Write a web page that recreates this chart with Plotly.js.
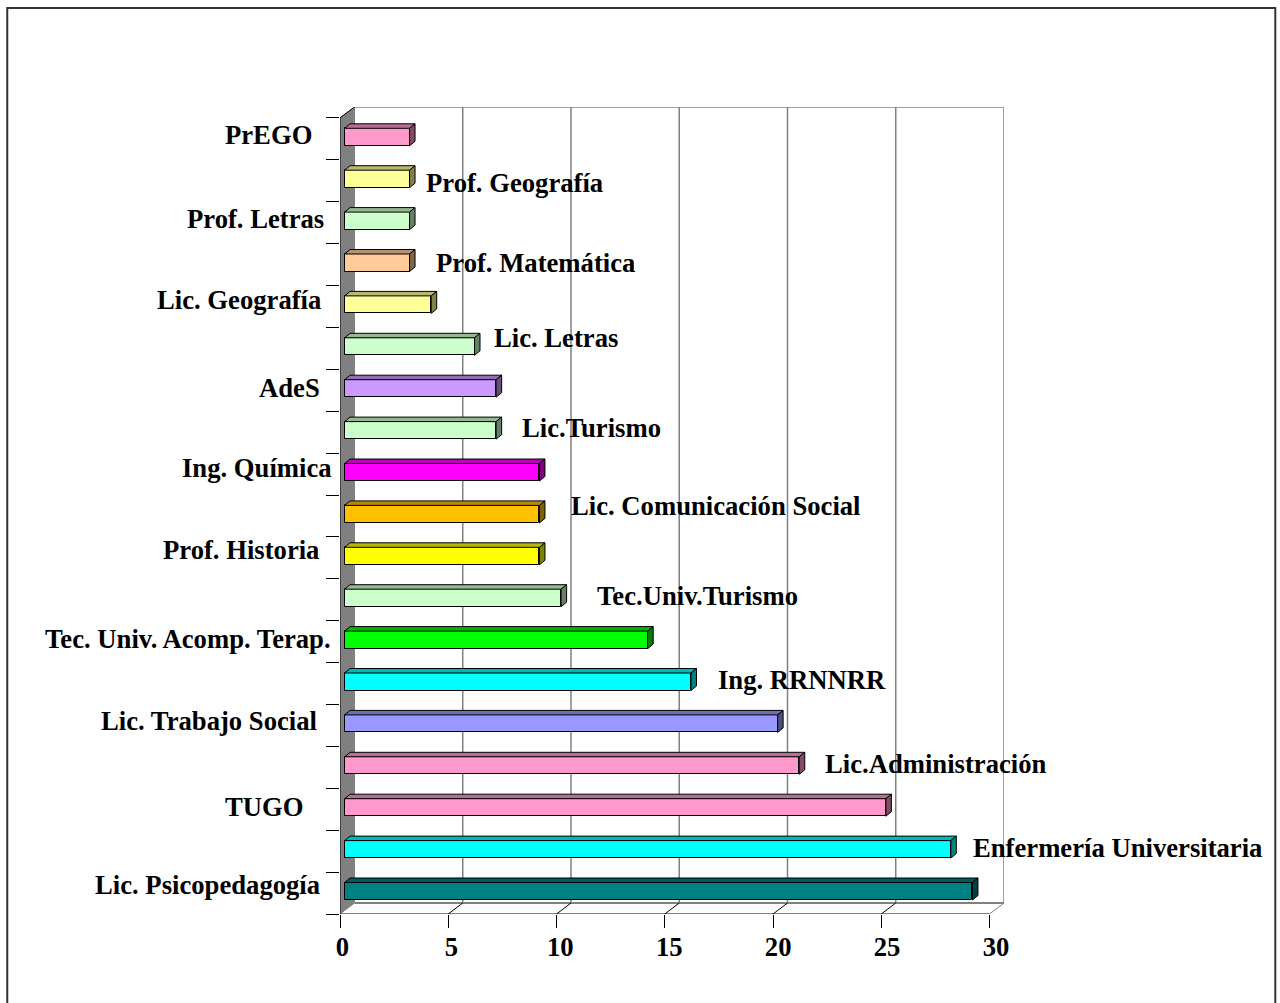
<!DOCTYPE html>
<html>
<head>
<meta charset="utf-8">
<script src="https://cdn.plot.ly/plotly-3.0.1.min.js"></script>
<style>html,body{margin:0;padding:0;background:#fff}#chart{width:1280px;height:1003px}</style>
</head>
<body>
<div id="chart"></div>
<script>
// Data, bottom to top
const categories = ["Lic. Psicopedagogía","Enfermería Universitaria","TUGO","Lic.Administración","Lic. Trabajo Social","Ing. RRNNRR","Tec. Univ. Acomp. Terap.","Tec.Univ.Turismo","Prof. Historia","Lic. Comunicación Social","Ing. Química","Lic.Turismo","AdeS","Lic. Letras","Lic. Geografía","Prof. Matemática","Prof. Letras","Prof. Geografía","PrEGO"];
const values = [29,28,25,21,20,16,14,10,9,9,9,7,7,6,4,3,3,3,3];
const barColors = ["#008080","#00FFFF","#FF99CC","#FF99CC","#9999FF","#00FFFF","#00FF00","#CCFFCC","#FFFF00","#FFC000","#FF00FF","#CCFFCC","#CC99FF","#CCFFCC","#FFFF99","#FFCC99","#CCFFCC","#FFFF99","#FF99CC"];
const xTicks = [0,5,10,15,20,25,30];

// Frame geometry (pixels on the page)
const W=1280,H=1003,plotL=339.5,plotR=1004,plotT=107,plotB=914;
const pxPerX=21.667,pxPerY=41.9;
const wallDx=14.5/pxPerX, wallDy=11/pxPerY;
const barBase=4.6/pxPerX, barLift=1.8/pxPerY, barH=17.5/pxPerY, barDx=5.5/pxPerX, barDy=4.5/pxPerY;
const xMax=(plotR-plotL)/pxPerX, yMin=-0.5, yMax=yMin+(plotB-plotT)/pxPerY;
const yTop=categories.length-0.5;
// tick labels sit on a slightly wider scale than the tick marks
const labelOrigin=342, labelPerX=21.8;

function shade(hex,f){const n=parseInt(hex.slice(1),16);return `rgb(${Math.round((n>>16&255)*f)},${Math.round((n>>8&255)*f)},${Math.round((n&255)*f)})`;}
const traces=[];
values.forEach((v,i)=>{
  const y0=i+barLift-barH/2,y1=i+barLift+barH/2,x0=barBase,x1=barBase+v;
  traces.push({type:"scatter",mode:"lines",fill:"toself",hoverinfo:"skip",showlegend:false,
    x:[x0,x1,x1+barDx,x0+barDx,x0],y:[y1,y1,y1+barDy,y1+barDy,y1],
    fillcolor:shade(barColors[i],0.72),line:{color:"#000",width:1}});
  traces.push({type:"scatter",mode:"lines",fill:"toself",hoverinfo:"skip",showlegend:false,
    x:[x1,x1+barDx,x1+barDx,x1,x1],y:[y0,y0+barDy,y1+barDy,y1,y0],
    fillcolor:shade(barColors[i],0.5),line:{color:"#000",width:1}});
});
traces.push({type:"bar",orientation:"h",showlegend:false,
  y:categories.map((c,i)=>i+barLift),x:values,base:barBase,width:barH,text:categories,hoverinfo:"text+x",textposition:"none",
  marker:{color:barColors,line:{color:"#000",width:1}}});
// carries the axis that shows the tick labels
traces.push({type:"scatter",mode:"markers",xaxis:"x2",yaxis:"y",x:xTicks,y:xTicks.map(()=>yMin),opacity:0,hoverinfo:"skip",showlegend:false});

const gray="#808080";
const shapes=[];
const seg=(x0,y0,x1,y1,color,width)=>shapes.push({type:"line",xref:"x",yref:"y",layer:"below",x0,y0,x1,y1,line:{color,width}});
shapes.push({type:"path",xref:"x",yref:"y",layer:"below",fillcolor:gray,line:{color:gray,width:1},
  path:`M0,${yMin}L${wallDx},${yMin+wallDy}L${wallDx},${yMax}L0,${yTop}Z`});
xTicks.slice(1).forEach(t=>seg(t+wallDx,yMin+wallDy,t+wallDx,yMax,gray,1.5));
seg(wallDx,yMax,30+wallDx,yMax,gray,1.5);
seg(wallDx,yMin+wallDy,30+wallDx,yMin+wallDy,gray,2);
xTicks.slice(1).forEach(t=>seg(t,yMin,t+wallDx,yMin+wallDy,t===30?gray:"#000",1));
seg(0,yMin,30,yMin,"#000",1);
seg(0,yMin,0,yTop,"#000",1);
seg(0,yTop,wallDx,yMax,"#000",1);

// page frame (its bottom edge runs off the page)
shapes.push({type:"rect",xref:"paper",yref:"paper",layer:"below",
  x0:(6.5-plotL)/(plotR-plotL),x1:(1275.5-plotL)/(plotR-plotL),
  y0:(plotB-1010)/(plotB-plotT),y1:(plotB-8)/(plotB-plotT),line:{color:"#333",width:2}});

// where each label sits on the page: left edge x, centre y
const labelX=[92,971,222,823,98,716,42,595,160,569,179,520,256,492,154,434,184,424,222];
const labelY=[885,848,807,764,721,680,639,596,550,506,468,428,388,338,300,263,219,183,135];
const annotations=categories.map((c,i)=>({
  text:c,showarrow:false,xref:"paper",yref:"paper",xanchor:"left",yanchor:"middle",
  x:(labelX[i]-plotL)/(plotR-plotL),y:(plotB-labelY[i])/(plotB-plotT),
  font:{family:"Liberation Serif",size:26.67,color:"#000",weight:700}
}));

const yTicks=categories.map((c,i)=>i-0.5).concat([yTop]);
Plotly.newPlot("chart",traces,{
  width:W,height:H,showlegend:false,paper_bgcolor:"#fff",plot_bgcolor:"rgba(0,0,0,0)",bargap:0,
  margin:{l:plotL,r:W-plotR,t:plotT,b:H-plotB,pad:0},
  xaxis:{range:[0,xMax],tickmode:"array",tickvals:xTicks,showticklabels:false,ticks:"outside",ticklen:13,tickwidth:1,tickcolor:"#000",
    showgrid:false,zeroline:false,showline:false,automargin:false},
  xaxis2:{overlaying:"x",anchor:"y",side:"bottom",range:[(plotL-labelOrigin)/labelPerX,(plotR-labelOrigin)/labelPerX],
    tickmode:"array",tickvals:xTicks,ticktext:xTicks.map(String),ticks:"outside",ticklen:9,tickwidth:0,tickcolor:"rgba(0,0,0,0)",
    showgrid:false,zeroline:false,showline:false,tickfont:{family:"Liberation Serif",size:26.67,color:"#000",weight:700},automargin:false},
  yaxis:{range:[yMin,yMax],tickmode:"array",tickvals:yTicks,showticklabels:false,ticks:"outside",ticklen:13,tickwidth:1,tickcolor:"#000",
    showgrid:false,zeroline:false,showline:false,automargin:false},
  shapes,annotations
},{displayModeBar:false,responsive:false});
</script>
</body>
</html>
